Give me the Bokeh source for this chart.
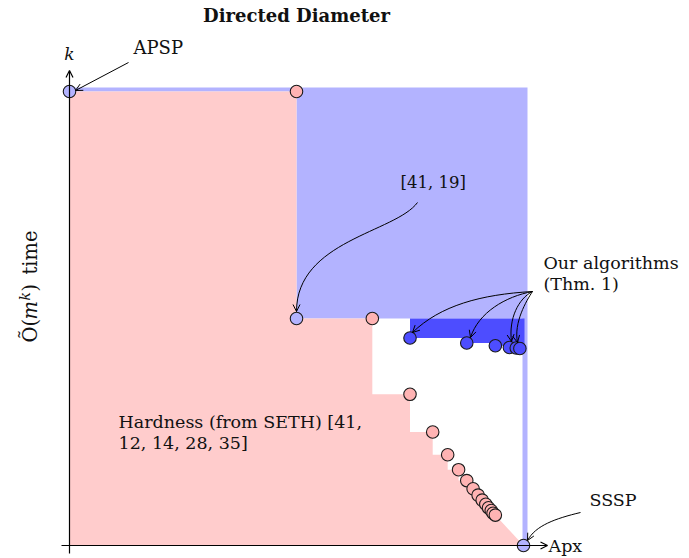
from bokeh.plotting import figure
from bokeh.models import Range1d, Arrow, OpenHead, Label
from bokeh.embed import file_html
from bokeh.resources import INLINE
import math

# ---------------- data ----------------
# previously known algorithms: APSP, [41, 19], SSSP
apx_prior = [1.0, 1.5, 2.0]
time_prior = [2.0, 1.5, 1.0]
# hardness points (from SETH)
apx_hard = [1.5, 1.667, 1.75, 1.8, 1.833, 1.857, 1.875, 1.889, 1.9, 1.909,
            1.917, 1.923, 1.929, 1.933, 1.938]
time_hard = [2.0, 1.5, 1.333, 1.25, 1.2, 1.167, 1.143, 1.125, 1.111, 1.1,
             1.091, 1.083, 1.077, 1.071, 1.067]
# our algorithms (Thm. 1)
apx_ours = [1.75, 1.875, 1.938, 1.969, 1.984, 1.992]
time_ours = [1.457, 1.446, 1.440, 1.436, 1.435, 1.434]

FONT = "DejaVu Serif"
LIGHT = "#b3b3ff"
PINK = "#ffcccc"
PINKPT = "#ffb3b3"
DARK = "#4d4dff"
EDGE = "#1a1a1a"

W, H = 689, 558
OFF = 0
SCALE = 454.0


def dx(px):
    return 1 + (px - 69) / SCALE


def dy(py):
    return 1 + (545 - py) / SCALE


p = figure(width=W, height=H, x_range=Range1d(dx(OFF), dx(OFF + W)),
           y_range=Range1d(dy(OFF + H), dy(OFF)), output_backend="svg",
           toolbar_location=None, min_border=0,
           x_axis_location=None, y_axis_location=None)
p.grid.visible = False
p.outline_line_color = None
p.background_fill_color = "white"
p.border_fill_color = "white"

pad = 4 / SCALE
x_lo, x_hi = apx_prior[0], apx_prior[-1]
t_lo, t_hi = time_prior[-1], time_prior[0]

# light blue region (known upper bounds)
lb_x = [x_lo, x_lo, x_hi + pad, x_hi + pad, x_hi - pad / 4, x_hi - pad / 4, apx_prior[1], apx_prior[1]]
lb_y = [t_hi, t_hi + pad, t_hi + pad, t_lo, t_lo, time_prior[1], time_prior[1], t_hi]
p.patch(lb_x, lb_y, fill_color=LIGHT, line_color=None)

# pink region (hardness staircase)
pk_x = [x_lo, x_lo]
pk_y = [t_lo, time_hard[0]]
for i in range(len(apx_hard)):
    pk_x.append(apx_hard[i]); pk_y.append(time_hard[i])
    if i + 1 < len(apx_hard):
        pk_x.append(apx_hard[i]); pk_y.append(time_hard[i + 1])
pk_x.append(x_hi); pk_y.append(t_lo)
p.patch(pk_x, pk_y, fill_color=PINK, line_color=None)

# dark blue region (our algorithms)
x_end = x_hi + 1 / SCALE
db_x = [apx_ours[0], x_end, x_end]
db_y = [time_prior[1], time_prior[1], time_ours[-1]]
n = len(apx_ours)
for i in range(n - 1, -1, -1):
    db_x.append(apx_ours[i]); db_y.append(time_ours[i])
    if i > 0:
        db_x.append(apx_ours[i]); db_y.append(time_ours[i - 1])
p.patch(db_x, db_y, fill_color=DARK, line_color=None)

# axes with arrows
p.add_layout(Arrow(end=OpenHead(size=7, line_width=1.2), x_start=dx(61), y_start=t_lo,
                   x_end=dx(547), y_end=t_lo, line_width=1.2))
p.add_layout(Arrow(end=OpenHead(size=7, line_width=1.2), x_start=x_lo, y_start=dy(553),
                   x_end=x_lo, y_end=dy(70), line_width=1.2))

# points
p.scatter(apx_hard, time_hard, size=12.5, fill_color=PINKPT, line_color=EDGE, line_width=1.1)
p.scatter(apx_ours, time_ours, size=12.5, fill_color=DARK, line_color=EDGE, line_width=1.1)
p.scatter(apx_prior, time_prior, size=12.5, fill_color=LIGHT, line_color=EDGE, line_width=1.1)

# curved annotation arrows (page pixel coordinates converted)
curves = [
    # [41, 19]
    ((417, 202), (395, 232), (296, 240), (296, 311)),
    # Our algorithms
    ((532, 291), (480, 294), (440, 305), (412, 332)),
    ((532, 291), (505, 296), (478, 312), (470, 337)),
    ((532, 291), (518, 298), (508, 318), (511, 341)),
    ((532, 291), (526, 300), (513, 322), (517, 342)),
    # SSSP
    ((580, 512), (555, 518), (535, 525), (527, 540)),
]
p.bezier(x0=[dx(c[0][0]) for c in curves], y0=[dy(c[0][1]) for c in curves],
         cx0=[dx(c[1][0]) for c in curves], cy0=[dy(c[1][1]) for c in curves],
         cx1=[dx(c[2][0]) for c in curves], cy1=[dy(c[2][1]) for c in curves],
         x1=[dx(c[3][0]) for c in curves], y1=[dy(c[3][1]) for c in curves],
         line_color="black", line_width=1)
for c in curves:
    p.add_layout(Arrow(end=OpenHead(size=7, line_width=1), x_start=dx(c[2][0]), y_start=dy(c[2][1]),
                       x_end=dx(c[3][0]), y_end=dy(c[3][1]), line_alpha=0))

# APSP straight arrow
p.add_layout(Arrow(end=OpenHead(size=7, line_width=1), x_start=dx(128), y_start=dy(62),
                   x_end=dx(75), y_end=dy(90), line_width=1))


def lab(text, px, py, size=17, align="left", style="normal", angle=0.0):
    p.add_layout(Label(x=dx(px), y=dy(py), text=text, text_font=FONT,
                       text_font_size=f"{size}px", text_align=align,
                       text_baseline="middle", text_font_style=style,
                       text_color="#111111", angle=angle))


lab("Directed Diameter", 296, 15, size=18, align="center", style="bold")
lab("APSP", 133, 47, size=18)
lab("k", 69, 53, size=17, align="center", style="italic")
lab("[41, 19]", 400, 182, size=16.5)
lab("Our algorithms", 543, 262, size=17.5)
lab("(Thm. 1)", 543, 283, size=17.5)
lab("Hardness (from SETH) [41,", 118, 421, size=17.5)
lab("12, 14, 28, 35]", 118, 442, size=17.5)
lab("SSSP", 589, 499, size=17.5)
lab("Apx", 548, 545, size=17.5)

# rotated y-axis title "Õ(m^k) time", composed piece by piece (reads bottom to top)
rot = math.pi / 2
lab("Õ(", 30, 342, size=19.5, angle=rot)
lab("m", 30, 319, size=19.5, style="italic", angle=rot)
lab("k", 24, 300, size=14, style="italic", angle=rot)
lab(")", 30, 291, size=19.5, angle=rot)
lab("time", 30, 274, size=19.5, angle=rot)

open("out.html", "w").write(file_html(p, INLINE))
